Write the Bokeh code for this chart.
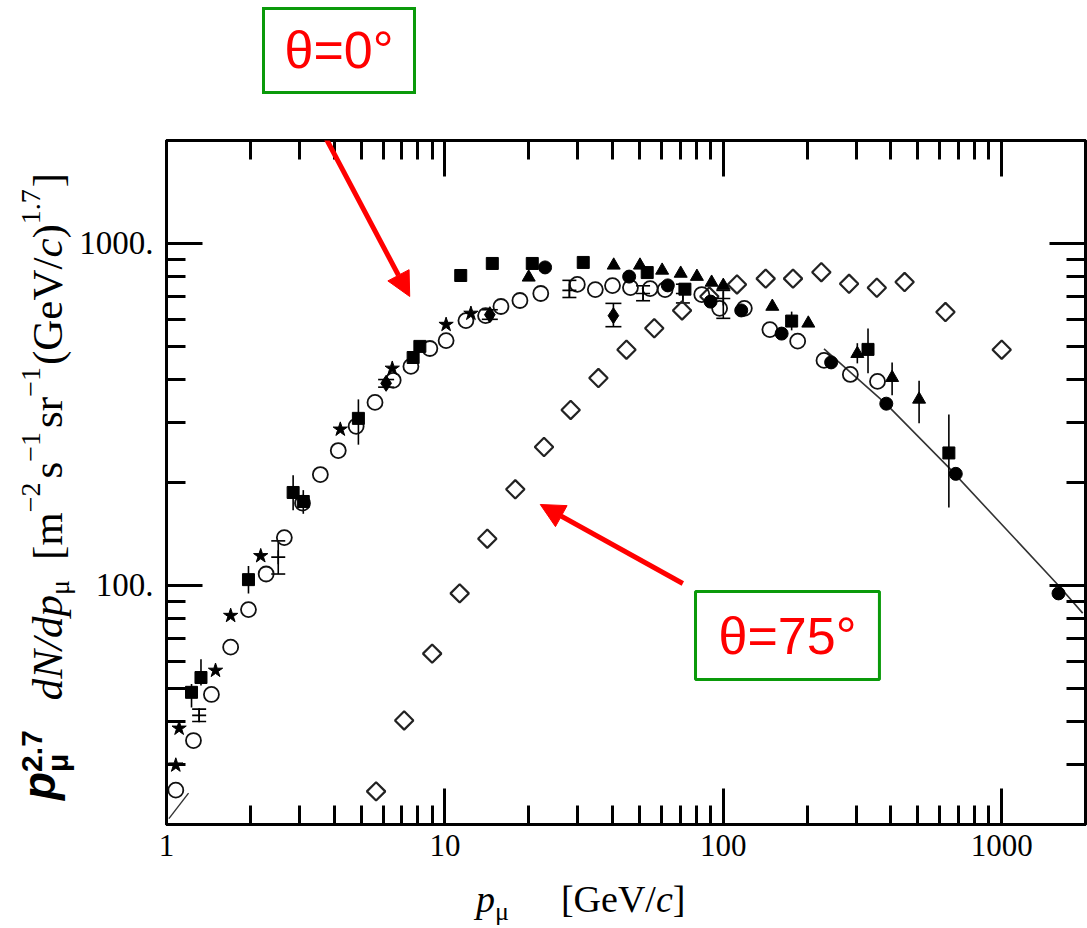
import math
from bokeh.plotting import figure
from bokeh.models import (ColumnDataSource, Range1d, LogAxis, FixedTicker, Label, Arrow,
                          NormalHead, Whisker, TeeHead, Div)
from bokeh.layouts import column, row
from bokeh.embed import file_html
from bokeh.resources import INLINE

# ---------------------------------------------------------------- data
x_ticks = [1, 10, 100, 1000]
x_tick_labels = ["1", "10", "100", "1000"]
y_ticks = [100, 1000]
y_tick_labels = ["100.", "1000."]
x_minor = [k * 10 ** e for e in range(0, 4) for k in range(2, 10) if k * 10 ** e <= 2000]
y_minor = [k * 10 ** e for e in range(1, 4) for k in range(2, 10) if 20 <= k * 10 ** e <= 2000]

# theta = 0 deg : open circles
oc_p = [1.08, 1.25, 1.45, 1.70, 1.97, 2.28, 2.65, 3.08, 3.57, 4.14, 4.80, 5.61, 6.52,
        7.55, 8.83, 10.1, 11.9, 14.0, 15.9, 18.6, 22.1, 29.9, 34.7, 40.0, 46.4, 54.6,
        61.8, 83.7, 97, 119, 147, 185, 230, 286, 358]
oc_f = [25.2, 35.2, 48, 66, 85, 108, 138, 174, 211, 248, 292, 343, 398,
        437, 493, 520, 595, 615, 654, 681, 714, 759, 733, 753, 743, 738,
        733, 709, 646, 646, 560, 518, 455, 414, 395]

# theta = 0 deg : filled squares
sq_p = [1.23, 1.33, 1.97, 2.85, 3.10, 4.89, 7.69, 8.13, 11.4, 14.8, 20.6, 31.4, 53.3, 72.8, 176, 331, 646]
sq_f = [48.7, 53.8, 104, 187, 176, 308, 464, 500, 806, 874, 874, 880, 822, 735, 593, 490, 244]
sq_lo = [44, 51.0, 94.8, 166, 162, 258, 464, 500, 806, 874, 874, 880, 822, 735, 557, 417, 169]
sq_hi = [51.5, 60.8, 114, 210, 190, 350, 464, 500, 806, 874, 874, 880, 822, 735, 632, 564, 316]

# theta = 0 deg : filled circles
fc_p = [22.9, 45.9, 63.2, 90, 116, 162, 244, 385, 684, 1600]
fc_f = [851, 800, 754, 676, 637, 545, 449, 340, 212, 94.8]

# theta = 0 deg : filled triangles
tr_p = [20, 40.4, 50.2, 60.3, 70.3, 80.4, 90.8, 100, 150, 202, 303, 404, 505]
tr_f = [796, 863, 863, 834, 817, 800, 769, 753, 654, 584, 476, 405, 350]
tr_lo = [796, 863, 863, 834, 817, 800, 769, 753, 654, 584, 446, 360, 298]
tr_hi = [796, 863, 863, 834, 817, 800, 769, 753, 654, 584, 511, 449, 397]

# theta = 0 deg : filled diamonds
fd_p = [6.15, 14.5, 40.3]
fd_f = [390, 619, 615]
fd_lo = [380, 600, 571]
fd_hi = [400, 640, 668]

# theta = 0 deg : stars
st_p = [1.08, 1.11, 1.50, 1.70, 2.18, 4.21, 6.47, 10.1, 12.4]
st_f = [29.8, 38.2, 56.4, 81.6, 122, 286, 431, 579, 624]

# theta = 0 deg : crosses with error bars
cr_p = [1.31, 2.52, 28.0, 51.5, 71.6, 100]
cr_f = [41.7, 121, 729, 714, 714, 690]
cr_lo = [40, 108, 695, 680, 670, 604]
cr_hi = [43.5, 135, 780, 752, 760, 729]

# theta = 75 deg : open diamonds
d75_p = [5.66, 7.14, 9.0, 11.3, 14.2, 17.9, 22.7, 28.3, 35.6, 44.9, 56.5, 71.1, 89.1,
         112, 142, 178, 225, 283, 356, 448, 628, 1000]
d75_f = [25.0, 40.3, 63.2, 94.8, 137, 191, 254, 326, 404, 489, 565, 637, 700,
         759, 789, 789, 824, 762, 742, 771, 630, 489]

# calculation curves
fit_p = [230, 385, 646, 1600, 1954]
fit_f = [492, 339, 221, 100, 83]
low_p = [1.02, 1.20]
low_f = [20.8, 24.7]

# ---------------------------------------------------------------- styles
SERIF = "Liberation Serif"
SANS = "Liberation Sans"
RED = "#ff0000"
GREEN = "#0a9a0a"

# page layout (px)
PAGE_W, PAGE_H = 1087, 928
TOP_H, XT_H, YT_W = 100, 48, 76
FR_L, FR_R, FR_T, FR_B = 163, 1085, 140, 824       # plot frame on the page

# mapping (page px) used to place annotations inside the frame
REF_X1, REF_DEC_X = 163.0, (FR_R - FR_L) / math.log10(2000)
REF_Y1000, REF_DEC_Y = FR_T + (FR_B - FR_T) * math.log10(2) / 2, (FR_B - FR_T) / 2.0


def img2data(px, py):
    return (10 ** ((px - REF_X1) / REF_DEC_X),
            10 ** (3 + (REF_Y1000 - py) / REF_DEC_Y))


p_w = PAGE_W - YT_W
p_h = PAGE_H - TOP_H - XT_H
p = figure(width=p_w, height=p_h, x_axis_type="log", y_axis_type="log",
           x_axis_location=None, y_axis_location=None,
           x_range=Range1d(1, 2000), y_range=Range1d(20, 2000),
           output_backend="svg", toolbar_location=None,
           min_border_left=FR_L - YT_W, min_border_right=PAGE_W - FR_R,
           min_border_top=FR_T - TOP_H, min_border_bottom=TOP_H + p_h - FR_B)
p.grid.visible = False
p.background_fill_color = "white"
p.border_fill_color = "white"
p.outline_line_color = "black"
p.outline_line_width = 3


def make_axis(ticks, minor, labels, show, size):
    ax = LogAxis(ticker=FixedTicker(ticks=ticks, minor_ticks=minor))
    ax.axis_line_width = 3
    ax.axis_line_color = "black"
    ax.major_tick_in = 36
    ax.major_tick_out = 0
    ax.minor_tick_in = 19
    ax.minor_tick_out = 0
    ax.major_tick_line_width = 3
    ax.minor_tick_line_width = 3
    ax.major_tick_line_color = "black"
    ax.minor_tick_line_color = "black"
    ax.major_label_text_font = SERIF
    if show:
        ax.major_label_overrides = {float(v): t for v, t in zip(ticks, labels)}
        ax.major_label_text_color = "black"
        ax.major_label_text_font_size = f"{size}px"
    else:
        ax.major_label_overrides = {float(v): "" for v in ticks}
        ax.major_label_text_color = None
        ax.major_label_standoff = 0
    return ax


bottom_ax = make_axis(x_ticks, x_minor, x_tick_labels, True, 31)
bottom_ax.major_label_standoff = 10
left_ax = make_axis(y_ticks, y_minor, y_tick_labels, True, 33)
left_ax.major_label_standoff = 13
top_ax = make_axis(x_ticks, x_minor, x_tick_labels, False, 31)
right_ax = make_axis(y_ticks, y_minor, y_tick_labels, False, 33)
p.add_layout(bottom_ax, "below")
p.add_layout(left_ax, "left")
p.add_layout(top_ax, "above")
p.add_layout(right_ax, "right")

# ---------------------------------------------------------------- curves
p.line(fit_p, fit_f, line_color="#333333", line_width=1.6)
p.line(low_p, low_f, line_color="#333333", line_width=1.4)

# ---------------------------------------------------------------- error bars
sq_src = ColumnDataSource(dict(x=sq_p, y=sq_f, lo=sq_lo, hi=sq_hi))
p.segment(x0="x", y0="lo", x1="x", y1="hi", source=sq_src, line_color="black", line_width=1.6)
tr_src = ColumnDataSource(dict(x=tr_p, y=tr_f, lo=tr_lo, hi=tr_hi))
p.segment(x0="x", y0="lo", x1="x", y1="hi", source=tr_src, line_color="black", line_width=1.6)
fd_src = ColumnDataSource(dict(x=fd_p, y=fd_f, lo=fd_lo, hi=fd_hi))
p.add_layout(Whisker(source=fd_src, base="x", upper="hi", lower="lo", line_color="black",
                     line_width=1.6,
                     upper_head=TeeHead(size=16, line_width=1.6, line_color="black"),
                     lower_head=TeeHead(size=16, line_width=1.6, line_color="black")))
cr_src = ColumnDataSource(dict(x=cr_p, y=cr_f, lo=cr_lo, hi=cr_hi))
p.add_layout(Whisker(source=cr_src, base="x", upper="hi", lower="lo", line_color="black",
                     line_width=1.6,
                     upper_head=TeeHead(size=14, line_width=1.6, line_color="black"),
                     lower_head=TeeHead(size=14, line_width=1.6, line_color="black")))

# ---------------------------------------------------------------- markers
p.scatter(d75_p, d75_f, marker="square", angle=math.pi / 4, size=13, fill_color=None,
          line_color="#222222", line_width=2.2)
p.scatter(oc_p, oc_f, marker="circle", size=15, fill_color=None, line_color="#111111", line_width=1.8)
p.scatter("x", "y", source=sq_src, marker="square", size=12, fill_color="black", line_color="black")
p.scatter(fc_p, fc_f, marker="circle", size=13, fill_color="black", line_color="black")
p.scatter("x", "y", source=tr_src, marker="triangle", size=13, fill_color="black", line_color="black")
p.scatter("x", "y", source=fd_src, marker="diamond", size=16, fill_color="black", line_color="black")
p.scatter(st_p, st_f, marker="star", size=15, fill_color="black", line_color="black")
p.scatter("x", "y", source=cr_src, marker="cross", size=14, line_color="black", line_width=1.6)

# ---------------------------------------------------------------- in-frame annotations
bx, by = img2data(786, 635)
lab75 = Label(x=bx, y=by, text="θ=75°", text_align="center", text_baseline="middle",
              text_font=SANS, text_font_size="52px", text_color=RED,
              border_line_color=GREEN, border_line_width=3, background_fill_color="white")
try:
    lab75.padding = dict(left=23, right=23, top=15, bottom=15)
except Exception:
    try:
        lab75.padding = 18
    except Exception:
        pass
p.add_layout(lab75)

for (sx, sy), (ex, ey) in [((313, 119), (407, 296)), ((681, 583), (538, 504))]:
    x0, y0 = img2data(sx, sy)
    x1, y1 = img2data(ex, ey)
    p.add_layout(Arrow(x_start=x0, y_start=y0, x_end=x1, y_end=y1, line_color=RED, line_width=5,
                       end=NormalHead(size=24, fill_color=RED, line_color=RED, line_width=1)))


# ---------------------------------------------------------------- texts outside the frame (HTML)
def span(text, font, size, style="normal", weight="normal", shift=0, extra=""):
    return (f"<span style=\"font-family:'{font}';font-size:{size}px;font-style:{style};"
            f"font-weight:{weight};position:relative;top:{shift}px;{extra}\">{text}</span>")


def gap(w):
    return f'<span style="display:inline-block;width:{w}px"></span>'


# y-axis title, rotated, reading bottom to top
YS, YSUP = 43, 28
Y_BASE = 60                       # page x of the serif baseline
Y_START = 800                     # page y where the text starts
y_line = 44
base_off = (y_line - 1.107 * YS) / 2 + 0.891 * YS
ytitle_html = (
    span("p", SANS, 46, "italic", "bold", shift=-7)
    + span("μ", SANS, 30, "normal", "bold", shift=6, extra="display:inline-block;width:0;")
    + span("2.7", SANS, 30, "normal", "bold", shift=-20)
    + gap(30)
    + span("dN/dp", SERIF, YS, "italic")
    + span("μ", SERIF, YSUP, shift=7)
    + gap(20)
    + span("[m", SERIF, YS) + span("−2", SERIF, YSUP, shift=-22) + gap(4)
    + span("s", SERIF, YS) + span("−1", SERIF, YSUP, shift=-22) + gap(4)
    + span("sr", SERIF, YS) + span("−1", SERIF, YSUP, shift=-22) + gap(2)
    + span("(GeV/", SERIF, YS) + span("c", SERIF, YS, "italic") + span(")", SERIF, YS)
    + span("1.7", SERIF, YSUP, shift=-22) + gap(2) + span("]", SERIF, YS)
)
ydiv = Div(width=YT_W, height=p_h, margin=(0, 0, 0, 0), text=(
    f'<div style="position:relative;width:{YT_W}px;height:{p_h}px;">'
    f'<div style="position:absolute;left:{Y_BASE - base_off:.1f}px;top:{Y_START - TOP_H}px;'
    f'transform-origin:0 0;transform:rotate(-90deg);white-space:nowrap;'
    f'line-height:{y_line}px;font-size:{YS}px;color:black;">{ytitle_html}</div></div>'))

# x-axis title
XS, XSUB = 38, 26
x_base_off = (XS - 1.107 * XS) / 2 + 0.891 * XS
xtitle_html = (span("p", SERIF, XS, "italic") + span("μ", SERIF, XSUB, shift=8) + gap(52)
               + span("[GeV/", SERIF, XS) + span("c", SERIF, XS, "italic") + span("]", SERIF, XS))
xdiv = Div(width=PAGE_W, height=XT_H, margin=(0, 0, 0, 0), text=(
    f'<div style="position:relative;width:{PAGE_W}px;height:{XT_H}px;">'
    f'<div style="position:absolute;left:476px;top:{912 - (PAGE_H - XT_H) - x_base_off:.1f}px;'
    f'white-space:nowrap;line-height:{XS}px;font-size:{XS}px;color:black;">{xtitle_html}</div></div>'))

# boxed label above the frame
topdiv = Div(width=PAGE_W, height=TOP_H, margin=(0, 0, 0, 0), text=(
    f'<div style="position:relative;width:{PAGE_W}px;height:{TOP_H}px;">'
    f'<div style="position:absolute;left:262px;top:7px;width:154px;height:87px;box-sizing:border-box;'
    f"border:3px solid {GREEN};color:{RED};font-family:'{SANS}';font-size:52px;line-height:81px;"
    f'text-align:center;white-space:nowrap;background:white;">θ=0°</div></div>'))

layout = column(topdiv, row(ydiv, p), xdiv)
open("out.html", "w").write(file_html(layout, INLINE))
